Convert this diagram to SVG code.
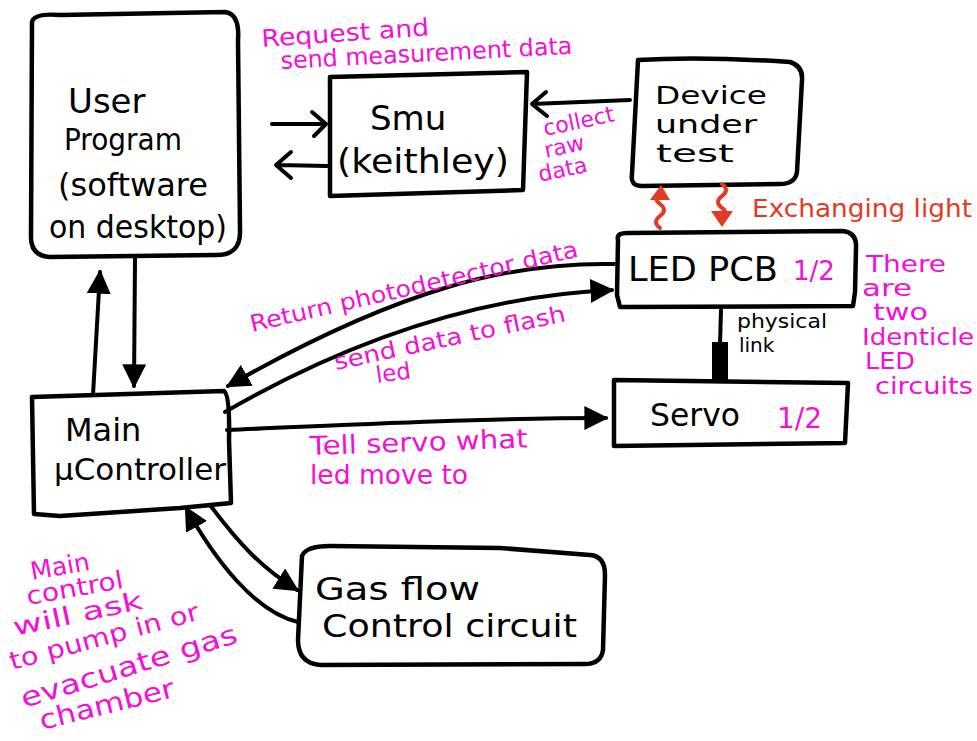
<svg xmlns="http://www.w3.org/2000/svg" width="977" height="741" viewBox="0 0 977 741">
<defs>
<style>
.box{fill:none;stroke:#000;stroke-width:4.5;stroke-linejoin:round;stroke-linecap:round}
.ln{fill:none;stroke:#000;stroke-width:4;stroke-linecap:round;stroke-linejoin:round}
.red{fill:none;stroke:#e33a26;stroke-width:4;stroke-linecap:round;stroke-linejoin:round}
.t{font-family:"Comic Sans MS","DejaVu Sans",sans-serif;fill:#000}
.m{font-family:"Comic Sans MS","DejaVu Sans",sans-serif;fill:#f20fd6}
.r{font-family:"Comic Sans MS","DejaVu Sans",sans-serif;fill:#e33a26}
</style>
<marker id="fa" viewBox="0 0 10 10" refX="9" refY="5" markerWidth="24" markerHeight="24" markerUnits="userSpaceOnUse" orient="auto">
<path d="M0,0 L10,5 L0,10 Z" fill="#000"/>
</marker>
</defs>

<g id="user-program">
<path class="box" d="M32,22 Q34,13 60,15 L225,12 Q240,14 238,40 L240,230 Q241,256 215,255 L50,257 Q30,256 31,235 Z"/>
<text class="t" x="68" y="113" font-size="34">User</text>
<text class="t" x="64" y="150" font-size="30" textLength="118" lengthAdjust="spacingAndGlyphs">Program</text>
<text class="t" x="58" y="196" font-size="32" textLength="150" lengthAdjust="spacingAndGlyphs">(software</text>
<text class="t" x="49" y="238" font-size="32" textLength="178" lengthAdjust="spacingAndGlyphs">on desktop)</text>
</g>

<g id="smu">
<path class="box" d="M330,77 L527,72 L523,190 L330,196 Z"/>
<text class="t" x="370" y="130" font-size="34">Smu</text>
<text class="t" x="337" y="173" font-size="34" textLength="172" lengthAdjust="spacingAndGlyphs">(keithley)</text>
</g>

<g id="device-under-test">
<path class="box" d="M638,60 Q700,56 790,62 Q803,66 802,80 L797,172 Q795,184 780,184 L642,186 Q630,186 632,174 Z"/>
<text class="t" x="655" y="104" font-size="25" textLength="112" lengthAdjust="spacingAndGlyphs">Device</text>
<text class="t" x="655" y="133" font-size="25" textLength="102" lengthAdjust="spacingAndGlyphs">under</text>
<text class="t" x="656" y="162" font-size="25" textLength="78" lengthAdjust="spacingAndGlyphs">test</text>
</g>

<g id="led-pcb">
<path class="box" d="M618,240 Q616,232 630,233 L842,231 Q857,232 856,248 L855,292 L853,306 L620,307 L617,295 Z"/>
<text class="t" x="628" y="281" font-size="34" textLength="150" lengthAdjust="spacingAndGlyphs">LED  PCB</text>
<text class="m" x="793" y="280" font-size="26">1/2</text>
</g>

<g id="servo">
<path class="box" d="M614,380 L848,383 L845,443 L614,446 Z"/>
<text class="t" x="650" y="426" font-size="32" textLength="90" lengthAdjust="spacingAndGlyphs">Servo</text>
<text class="m" x="777" y="428" font-size="28">1/2</text>
</g>

<g id="main-controller">
<path class="box" d="M32,397 L224,391 Q230,395 229,440 L231,503 L180,508 L60,516 L34,514 Z"/>
<text class="t" x="65" y="441" font-size="32">Main</text>
<text class="t" x="54" y="480" font-size="30" textLength="172" lengthAdjust="spacingAndGlyphs">µController</text>
</g>

<g id="gas-flow">
<path class="box" d="M302,556 Q306,546 330,546 L500,548 L590,555 Q605,556 605,575 L603,650 Q601,664 585,664 L320,665 Q298,663 298,640 Z"/>
<text class="t" x="315" y="600" font-size="32" textLength="165" lengthAdjust="spacingAndGlyphs">Gas flow</text>
<text class="t" x="322" y="637" font-size="32" textLength="255" lengthAdjust="spacingAndGlyphs">Control circuit</text>
</g>

<g id="connectors">
<path class="ln" d="M272,124 L325,124 M312,112 L326,124 L314,136"/>
<path class="ln" d="M327,166 L278,165 M291,152 L276,165 L291,178"/>
<path class="ln" d="M630,100 L532,104 M546,92 L532,104 L547,116"/>
<path class="ln" d="M93,395 L100,272" marker-end="url(#fa)"/>
<path class="ln" d="M135,258 L134,386" marker-end="url(#fa)"/>
<path class="ln" d="M614,264 C510,262 400,288 228,386" marker-end="url(#fa)"/>
<path class="ln" d="M225,412 C350,340 480,296 612,290" marker-end="url(#fa)"/>
<path class="ln" d="M227,430 C350,425 480,418 606,418" marker-end="url(#fa)"/>
<path class="ln" d="M210,505 C240,545 262,568 297,590" marker-end="url(#fa)"/>
<path class="ln" d="M298,622 C255,612 215,560 186,508" marker-end="url(#fa)"/>
<path class="ln" d="M721,310 L720,345"/>
<rect x="712" y="342" width="16" height="38" fill="#000"/>
<path class="red" d="M660,228 Q652,222 660,216 Q668,210 660,204 Q653,199 660,196"/>
<path d="M650,200 L670,200 L661,185 Z" fill="#e33a26"/>
<path class="red" d="M722,184 Q730,190 722,196 Q714,202 722,208 Q728,212 722,214"/>
<path d="M711,211 L733,211 L722,227 Z" fill="#e33a26"/>
</g>

<g id="labels">
<text class="m" x="262" y="47" font-size="24" textLength="168" lengthAdjust="spacingAndGlyphs" transform="rotate(-4 262 47)">Request and</text>
<text class="m" x="281" y="69" font-size="24" textLength="292" lengthAdjust="spacingAndGlyphs" transform="rotate(-3 281 69)">send measurement data</text>
<text class="m" x="545" y="136" font-size="22" textLength="72" lengthAdjust="spacingAndGlyphs" transform="rotate(-12 545 136)">collect</text>
<text class="m" x="546" y="158" font-size="22" transform="rotate(-12 546 158)">raw</text>
<text class="m" x="540" y="182" font-size="22" transform="rotate(-12 540 182)">data</text>
<text class="r" x="752" y="217" font-size="24" textLength="220" lengthAdjust="spacingAndGlyphs">Exchanging light</text>
<text class="t" x="737" y="328" font-size="20" textLength="90" lengthAdjust="spacingAndGlyphs">physical</text>
<text class="t" x="739" y="352" font-size="20">link</text>
<text class="m" x="866" y="272" font-size="23" textLength="80" lengthAdjust="spacingAndGlyphs">There</text>
<text class="m" x="862" y="296" font-size="23" textLength="50" lengthAdjust="spacingAndGlyphs">are</text>
<text class="m" x="873" y="320" font-size="23" textLength="55" lengthAdjust="spacingAndGlyphs">two</text>
<text class="m" x="862" y="345" font-size="23" textLength="112" lengthAdjust="spacingAndGlyphs">Identicle</text>
<text class="m" x="865" y="369" font-size="23" textLength="50" lengthAdjust="spacingAndGlyphs">LED</text>
<text class="m" x="875" y="394" font-size="23" textLength="98" lengthAdjust="spacingAndGlyphs">circuits</text>
<text class="m" x="252" y="332" font-size="23" textLength="336" lengthAdjust="spacingAndGlyphs" transform="rotate(-13 252 332)">Return photodetector data</text>
<text class="m" x="336" y="370" font-size="23" textLength="236" lengthAdjust="spacingAndGlyphs" transform="rotate(-12 336 370)">send data to flash</text>
<text class="m" x="377" y="383" font-size="23" transform="rotate(-8 377 383)">led</text>
<text class="m" x="310" y="455" font-size="26" textLength="218" lengthAdjust="spacingAndGlyphs" transform="rotate(-2 310 455)">Tell servo what</text>
<text class="m" x="310" y="484" font-size="26" textLength="158" lengthAdjust="spacingAndGlyphs">led move to</text>
<text class="m" x="32" y="580" font-size="25" transform="rotate(-10 32 580)">Main</text>
<text class="m" x="28" y="605" font-size="25" textLength="98" lengthAdjust="spacingAndGlyphs" transform="rotate(-10 28 605)">control</text>
<text class="m" x="15" y="636" font-size="25" textLength="132" lengthAdjust="spacingAndGlyphs" transform="rotate(-12 15 636)">will ask</text>
<text class="m" x="12" y="670" font-size="25" textLength="195" lengthAdjust="spacingAndGlyphs" transform="rotate(-15 12 670)">to pump in or</text>
<text class="m" x="24" y="708" font-size="27" textLength="225" lengthAdjust="spacingAndGlyphs" transform="rotate(-17 24 708)">evacuate gas</text>
<text class="m" x="42" y="730" font-size="27" textLength="138" lengthAdjust="spacingAndGlyphs" transform="rotate(-14 42 730)">chamber</text>
</g>
</svg>
